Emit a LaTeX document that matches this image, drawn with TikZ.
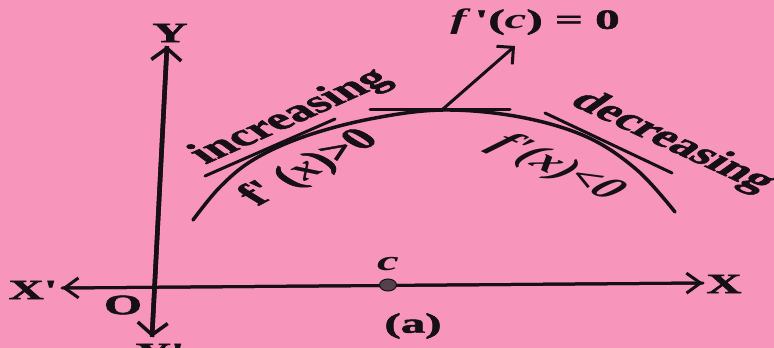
\documentclass[tikz,border=0pt]{standalone}
\usepackage{fontspec}
\setmainfont{Liberation Serif}[BoldFeatures={FakeBold=1.5}]
\usetikzlibrary{arrows.meta,shapes.geometric}
\definecolor{bgpink}{RGB}{247,149,186}
\definecolor{ink}{RGB}{22,15,22}
\definecolor{dotc}{RGB}{85,65,75}
\begin{document}
\begin{tikzpicture}[x=1pt,y=-1pt,
  lbl/.style={font=\fontsize{28}{30}\selectfont\bfseries, text=ink, inner sep=0pt, xscale=1.75},
  rlbl/.style={font=\fontsize{31}{33}\selectfont\bfseries, text=ink, inner sep=0pt, xscale=1.75},
  hbarb/.style={-{Straight Barb[length=14pt,width=20pt,line width=3pt]}},
  vbarb/.style={-{Straight Barb[length=12pt,width=30pt,line width=3.5pt]}},
  obarb/.style={-{Straight Barb[length=12pt,width=24pt,line width=3pt]}},
  thinline/.style={draw=ink, line width=3pt, line cap=round},
  curveline/.style={draw=ink, line width=3.5pt, line cap=round}]
\fill[bgpink] (0,0) rectangle (774,348);
\useasboundingbox (0,0) rectangle (774,348);

% axes
\coordinate (xl) at (62,288);
\coordinate (xr) at (703,283);
\coordinate (yt) at (167,46);
\coordinate (yb) at (152,337);
\draw[thinline, hbarb] (xr) -- (xl);
\draw[thinline, hbarb] (xl) -- (xr);
\draw[draw=ink, line width=4.5pt, vbarb] (yb) -- (yt);
\draw[draw=ink, line width=4.5pt, vbarb] (yt) -- (yb);

% curve
\draw[curveline] plot[smooth, tension=0.6] coordinates {(193,220) (220,187) (253,160) (303,137) (370,119) (443,110) (520,117) (587,137) (637,170) (675,212)};

% tangents
\coordinate (ti1) at (205,176);
\coordinate (ti2) at (335,119);
\coordinate (tc1) at (370,109);
\coordinate (tc2) at (510,109);
\coordinate (td1) at (545,113);
\coordinate (td2) at (672,173);
\draw[thinline] (ti1) -- (ti2);
\draw[thinline] (tc1) -- (tc2);
\draw[thinline] (td1) -- (td2);
\coordinate (cp) at (443,109);
\coordinate (ca) at (515,46);
\draw[thinline, obarb] (cp) -- (ca);

% point c
\node[ellipse, fill=dotc, draw=ink, line width=1pt, minimum width=17pt, minimum height=12pt, inner sep=0pt] (cdot) at (388,285) {};

% labels
\node[lbl] (ylab) at (170,33) {Y};
\node[lbl] (yplab) at (160,353) {Y\textquotesingle};
\node[lbl] (xlab) at (724,284) {X};
\node[lbl] (xplab) at (33,290) {X\textquotesingle};
\node[lbl] (olab) at (123,305) {O};
\node[lbl] (clab) at (388,264) {\itshape c};
\node[lbl] (alab) at (413,326) {(a)};
\node[lbl] (fc) at (535,22) {\itshape f\,\upshape\textquotesingle(\itshape c\upshape) = 0};

\node[rlbl, rotate=38] (inc) at (291,117) {increasing};
\node[rlbl, rotate=43] (fpos) at (310,168) {f\textquotesingle{} (\textit{x})>0};
\node[rlbl, rotate=-39] (dec) at (672,142) {decreasing};
\node[rlbl, rotate=-39] (fneg) at (557,168) {\itshape f\textquotesingle(x)<0};
\end{tikzpicture}
\end{document}
